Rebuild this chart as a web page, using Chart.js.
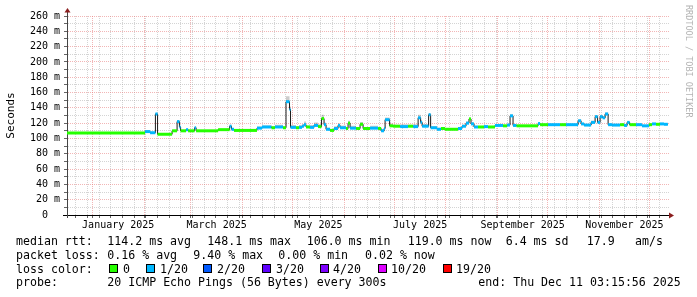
<!DOCTYPE html>
<html>
<head>
<meta charset="utf-8">
<script src="https://cdn.jsdelivr.net/npm/chart.js@4.4.1/dist/chart.umd.min.js"></script>
<style>
  html, body { margin: 0; padding: 0; background: #fff; }
</style>
</head>
<body>
<canvas id="smoke" width="697" height="297"></canvas>
<script>
// x is days since 1 Jan 2025, each entry starts a step of the median rtt
const segStart = [-15.2, 31.6, 34.6, 37.8, 39.1, 47.8, 50.8, 52.2, 52.9, 56.2,
  57.4, 61.3, 62.2, 75.4, 82.3, 83.4, 84.9, 98.7, 101.7, 107.4,
  109.5, 114.3, 116.1, 118.2, 118.8, 122.1, 123.9, 125.7, 126.9, 128.1,
  130.5, 132.9, 135.3, 137.4, 138.9, 140.1, 142.5, 144.9, 147.3, 148.5,
  152.1, 153.3, 154.5, 158.1, 160.5, 162.3, 166.5, 171.3, 173.1, 174.9,
  175.5, 178.2, 180.3, 184.5, 189.3, 192.3, 195.3, 196.8, 197.7, 201.6,
  202.8, 206.6, 209.0, 211.4, 219.2, 221.6, 224.0, 225.8, 227.0, 228.8,
  231.2, 234.8, 237.2, 241.4, 246.2, 248.6, 250.4, 252.2, 254.3, 267.2,
  268.4, 273.2, 280.4, 284.0, 291.2, 293.0, 294.8, 299.0, 301.4, 302.9,
  304.4, 305.9, 307.4, 309.2, 311.6, 316.4, 318.8, 320.6, 322.1, 325.9,
  329.5, 333.7, 335.5, 337.9, 340.3, 342.7];
const segEnd = 345;

// median rtt in ms
const medianMs = [107, 109, 107.5, 132, 105.5, 110, 122, 115, 110, 111.5,
  110, 114, 110, 111.5, 116, 112, 110.5, 113.5, 115, 114,
  115, 114, 148, 138, 114.5, 114, 114.5, 116, 118, 115,
  114.5, 117, 115.5, 126, 118, 112, 110.5, 113, 117, 114,
  113, 120, 113.5, 113, 118.5, 113, 113.5, 113, 110, 113,
  124.5, 116.5, 116, 115.5, 116, 115.5, 127, 121, 116, 131,
  114, 112, 113, 112, 113, 116, 120, 125.5, 119, 115,
  115, 115.5, 115, 117, 116.5, 117.5, 129.5, 117, 116.5, 119.5,
  118, 118, 118, 118, 123, 119, 117.5, 121, 128.5, 121,
  128.5, 127, 132, 118, 117.5, 118, 117, 121, 118, 118,
  116.5, 118, 119, 118.5, 119, 118.5];

// loss class per step (index into lossColors)
const lossIdx = [0, 1, 1, 1, 0, 0, 1, 1, 0, 1,
  0, 1, 0, 0, 1, 1, 0, 1, 1, 0,
  1, 0, 1, 1, 1, 0, 1, 1, 1, 0,
  1, 1, 0, 0, 1, 1, 0, 1, 1, 1,
  0, 0, 1, 0, 0, 0, 1, 0, 1, 1,
  1, 0, 0, 1, 0, 1, 1, 1, 1, 1,
  1, 1, 0, 0, 1, 1, 1, 0, 1, 1,
  0, 1, 0, 1, 0, 1, 1, 1, 0, 1,
  0, 1, 0, 1, 1, 1, 1, 1, 1, 1,
  1, 1, 1, 1, 1, 0, 1, 1, 0, 1,
  1, 0, 1, 0, 1, 1];

// smoke reaching above the median, ms
const smokeUpMs = [0, 1, 0, 1, 0, 0, 2, 1, 0, 1,
  0, 1, 0, 1, 2, 1, 0, 2, 2, 2,
  3, 2, 7, 4, 3, 2, 3, 3, 4, 2,
  3, 4, 3, 5, 3, 2, 2, 3, 3, 3,
  2, 3, 3, 2, 3, 2, 3, 2, 2, 2,
  3, 3, 2, 3, 2, 3, 4, 3, 3, 2,
  2, 2, 1, 1, 2, 2, 2, 2, 2, 1,
  1, 1, 1, 1, 1, 1, 2, 1, 1, 1,
  1, 1, 1, 1, 2, 1, 1, 2, 2, 2,
  2, 2, 2, 1, 1, 1, 1, 1, 1, 1,
  1, 1, 1, 1, 1, 1];

const lossColors = ['#26ff00', '#00b8ff', '#0059ff', '#5e00ff', '#7e00ff', '#dd00ff', '#ff0000'];
const lossLabels = ['0', '1/20', '2/20', '3/20', '4/20', '10/20', '19/20'];

const monthStarts = [0, 31, 59, 90, 120, 151, 181, 212, 243, 273, 304, 334];
const firstSunday = -10;
const labelDays = [15.5, 74.5, 135.5, 196.5, 258, 319];
const labelNames = ['January 2025', 'March 2025', 'May 2025', 'July 2025', 'September 2025', 'November 2025'];
const yTicks = [0, 10, 20, 30, 40, 50, 60, 70, 80, 90, 100, 110, 120, 130,
  140, 150, 160, 170, 180, 190, 200, 210, 220, 230, 240, 250, 260];

const statLines = [
  [[16, 'median rtt:'], [107.3, '114.2 ms avg'], [207.3, '148.1 ms max'], [306.7, '106.0 ms min'],
   [407.7, '119.0 ms now'], [505.7, '6.4 ms sd'], [586.7, '17.9'], [635, 'am/s']],
  [[16, 'packet loss:'], [107.3, '0.16 % avg'], [193.3, '9.40 % max'], [278.3, '0.00 % min'], [365, '0.02 % now']],
  [[16, 'loss color:']],
  [[16, 'probe:'], [107.3, '20 ICMP Echo Pings (56 Bytes) every 300s'], [478.3, 'end: Thu Dec 11 03:15:56 2025']]
];

const MONO = "'DejaVu Sans Mono', monospace";
const MAJOR = 'rgba(230,110,110,0.5)';
const MINOR = 'rgba(160,160,160,0.45)';

const monthSet = new Set(monthStarts);
const gridDays = [...monthStarts];
for (let d = firstSunday; d < segEnd + 2; d += 7) if (!monthSet.has(d)) gridDays.push(d);
gridDays.sort((a, b) => a - b);

const stepPts = (vals) => segStart.map((d, i) => ({ x: d, y: vals[i] }))
  .concat([{ x: segEnd, y: vals[vals.length - 1] }]);

const medianPts = stepPts(medianMs);
const smokePts = stepPts(medianMs.map((m, i) => m + smokeUpMs[i]));
const bandPts = [];
segStart.forEach((d, i) => {
  const next = i + 1 < segStart.length ? segStart[i + 1] : segEnd;
  bandPts.push({ x: d, y: medianMs[i] }, { x: next, y: medianMs[i] }, { x: next, y: null });
});

const decor = {
  id: 'decor',
  beforeDraw(chart) {
    const { ctx } = chart;
    ctx.save();
    ctx.fillStyle = '#fff';
    ctx.fillRect(0, 0, chart.width, chart.height);
    ctx.restore();
  },
  afterDraw(chart) {
    const { ctx, chartArea: a } = chart;
    ctx.save();
    // axis extensions and arrows
    ctx.strokeStyle = '#444';
    ctx.lineWidth = 1;
    ctx.beginPath();
    ctx.moveTo(a.left + 0.5, a.top);
    ctx.lineTo(a.left + 0.5, a.top - 4);
    ctx.moveTo(a.left + 0.5, a.bottom);
    ctx.lineTo(a.left + 0.5, a.bottom + 3);
    ctx.stroke();
    ctx.strokeStyle = '#000';
    ctx.beginPath();
    ctx.moveTo(a.left - 4, a.bottom + 0.5);
    ctx.lineTo(a.left, a.bottom + 0.5);
    ctx.stroke();
    ctx.fillStyle = '#8b1e1e';
    ctx.beginPath();
    ctx.moveTo(a.left - 2.5, a.top - 3.5);
    ctx.lineTo(a.left + 3.5, a.top - 3.5);
    ctx.lineTo(a.left + 0.5, a.top - 8);
    ctx.closePath();
    ctx.fill();
    ctx.beginPath();
    ctx.moveTo(a.right - 1, a.bottom - 2.5);
    ctx.lineTo(a.right - 1, a.bottom + 3.5);
    ctx.lineTo(a.right + 4, a.bottom + 0.5);
    ctx.closePath();
    ctx.fill();

    // statistics block
    ctx.fillStyle = '#000';
    ctx.font = '11.6px ' + MONO;
    ctx.textBaseline = 'alphabetic';
    const baselines = [245, 259, 272.7, 286];
    statLines.forEach((line, li) => {
      line.forEach(([x, t]) => ctx.fillText(t, x, baselines[li]));
    });
    const sqX = [109, 146, 203, 262, 320, 378, 443];
    const lbX = [123, 160, 217, 276, 333, 391, 456];
    lossColors.forEach((c, i) => {
      ctx.fillStyle = '#000';
      ctx.fillRect(sqX[i], 264, 9, 9);
      ctx.fillStyle = c;
      ctx.fillRect(sqX[i] + 1, 265, 7, 7);
      ctx.fillStyle = '#000';
      ctx.fillText(lossLabels[i], lbX[i], baselines[2]);
    });

    // watermark
    ctx.fillStyle = '#b4b4b4';
    ctx.font = '8.5px ' + MONO;
    ctx.textBaseline = 'middle';
    ctx.translate(688.5, 5);
    ctx.rotate(Math.PI / 2);
    ctx.fillText('RRDTOOL / TOBI OETIKER', 0, 0);
    ctx.restore();
  }
};

new Chart(document.getElementById('smoke'), {
  type: 'line',
  data: {
    datasets: [
      {
        label: 'smoke',
        data: smokePts,
        stepped: true,
        borderWidth: 0,
        pointRadius: 0,
        backgroundColor: 'rgba(0,0,0,0.2)',
        fill: '+1',
        order: 3
      },
      {
        label: 'median',
        data: medianPts,
        stepped: true,
        borderColor: '#1a1a1a',
        borderWidth: 1,
        pointRadius: 0,
        fill: false,
        order: 2
      },
      {
        label: 'loss',
        data: bandPts,
        borderWidth: 3,
        borderCapStyle: 'butt',
        pointRadius: 0,
        spanGaps: false,
        fill: false,
        order: 1,
        segment: {
          borderColor: (c) => lossColors[lossIdx[Math.floor(c.p0DataIndex / 3)]]
        }
      }
    ]
  },
  options: {
    responsive: false,
    animation: false,
    devicePixelRatio: 1,
    layout: { padding: { left: 0, right: 27, top: 16, bottom: 0 } },
    plugins: {
      legend: { display: false },
      tooltip: { enabled: false }
    },
    scales: {
      x: {
        type: 'linear',
        position: 'bottom',
        min: -15.2,
        max: 346.3,
        afterBuildTicks: (s) => { s.ticks = gridDays.map((v) => ({ value: v })); },
        afterFit: (s) => { s.height = 0; },
        ticks: { display: false },
        grid: {
          color: (c) => (c.tick && monthSet.has(c.tick.value) ? MAJOR : MINOR),
          lineWidth: 1,
          drawTicks: true,
          tickLength: 3,
          tickColor: '#666'
        },
        border: { display: true, color: '#000', width: 1, dash: [1, 1] }
      },
      xl: {
        type: 'linear',
        position: 'bottom',
        min: -15.2,
        max: 346.3,
        afterBuildTicks: (s) => { s.ticks = labelDays.map((v) => ({ value: v })); },
        afterFit: (s) => { s.height = 82; },
        ticks: {
          autoSkip: false,
          maxRotation: 0,
          padding: 4,
          color: '#000',
          font: { family: MONO, size: 10 },
          callback: (v, i) => labelNames[i]
        },
        grid: { display: false, drawTicks: false },
        border: { display: false }
      },
      y: {
        type: 'linear',
        min: 0,
        max: 260,
        afterBuildTicks: (s) => { s.ticks = yTicks.map((v) => ({ value: v })); },
        afterFit: (s) => { s.width = 67; },
        ticks: {
          autoSkip: false,
          padding: 4,
          color: '#000',
          font: { family: MONO, size: 10 },
          callback: (v) => (v % 20 ? '' : (v ? v + ' m' : '0  '))
        },
        grid: {
          color: (c) => (c.tick && c.tick.value % 20 === 0 ? MAJOR : MINOR),
          lineWidth: 1,
          tickLength: 3,
          tickColor: '#666'
        },
        border: { display: true, color: '#444', width: 1, dash: [1, 1] },
        title: {
          display: true,
          text: 'Seconds',
          color: '#000',
          font: { family: MONO, size: 11 },
          padding: { top: 4.5, bottom: 0 }
        }
      }
    }
  },
  plugins: [decor]
});
</script>
</body>
</html>
